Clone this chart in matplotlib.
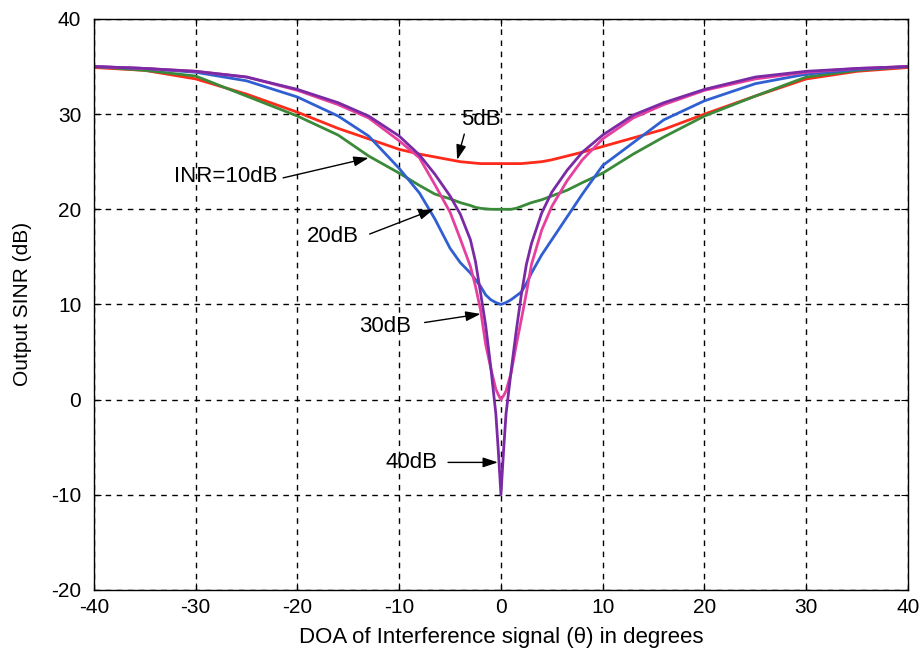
import numpy as np
import matplotlib
matplotlib.use("Agg")
import matplotlib.pyplot as plt

plt.rcParams['font.family'] = ['Liberation Sans', 'DejaVu Sans']
plt.rcParams['axes.unicode_minus'] = False

# DOA of interference (deg)
theta = [-40, -35, -30, -25, -20, -16, -13, -10, -8, -6.5, -5, -4, -3, -2.5, -2, -1.5, -1, -0.5, -0.25, 0,
         0.25, 0.5, 1, 1.5, 2, 2.5, 3, 4, 5, 6.5, 8, 10, 13, 16, 20, 25, 30, 35, 40]

# output SINR (dB) for each INR
sinr_5 = [34.9, 34.6, 33.7, 32.1, 30.2, 28.5, 27.4, 26.3, 25.8, 25.5, 25.2, 25.0, 24.9, 24.85, 24.8, 24.8, 24.8, 24.8, 24.8, 24.8,
          24.8, 24.8, 24.8, 24.8, 24.8, 24.85, 24.9, 25.0, 25.2, 25.6, 26.0, 26.6, 27.5, 28.4, 30.0, 31.9, 33.7, 34.5, 34.9]
sinr_10 = [35.0, 34.6, 34.0, 31.9, 29.8, 27.8, 25.6, 23.8, 22.5, 21.6, 21.1, 20.7, 20.4, 20.2, 20.1, 20.05, 20.0, 20.0, 20.0, 20.0,
           20.0, 20.0, 20.0, 20.1, 20.3, 20.5, 20.7, 21.0, 21.4, 22.0, 22.8, 23.8, 25.8, 27.6, 29.8, 31.9, 33.9, 34.6, 35.0]
sinr_20 = [35.0, 34.8, 34.4, 33.5, 31.8, 29.8, 27.7, 24.3, 21.7, 19.0, 15.9, 14.4, 13.3, 12.6, 11.9, 11.0, 10.5, 10.2, 10.1, 10.0,
           10.1, 10.2, 10.5, 10.9, 11.3, 12.2, 13.3, 15.2, 16.8, 19.2, 21.6, 24.6, 27.0, 29.4, 31.4, 33.2, 34.2, 34.7, 35.0]
sinr_30 = [35.0, 34.8, 34.5, 33.9, 32.5, 31.0, 29.6, 27.2, 25.4, 22.6, 19.7, 16.9, 14.0, 11.9, 9.4, 5.8, 3.3, 1.1, 0.5, 0.0,
           0.4, 0.9, 2.8, 5.7, 8.4, 11.2, 14.2, 17.8, 20.3, 23.0, 25.2, 27.4, 29.6, 31.0, 32.5, 33.7, 34.4, 34.8, 35.0]
sinr_40 = [35.0, 34.8, 34.5, 33.9, 32.6, 31.2, 29.8, 27.7, 25.7, 23.7, 21.4, 19.5, 16.8, 14.5, 11.2, 7.8, 3.4, -1.5, -5.5, -10.0,
           -5.5, -1.5, 3.0, 7.2, 11.0, 14.2, 16.4, 19.6, 21.8, 24.1, 26.0, 27.8, 29.9, 31.2, 32.6, 33.9, 34.5, 34.8, 35.0]

series = [(sinr_5, '#ff2a1a'), (sinr_10, '#3a8a3a'), (sinr_20, '#2f5fd0'),
          (sinr_30, '#e6409f'), (sinr_40, '#7b2aa6')]

fig = plt.figure(figsize=(9.2, 6.54), dpi=100)
ax = fig.add_axes([0.102, 0.098, 0.885, 0.873])

for vals, col in series:
    ax.plot(theta, vals, color=col, lw=2.0)

ax.set_xlim(-40, 40)
ax.set_ylim(-20, 40)
ax.set_xticks(np.arange(-40, 41, 10))
ax.set_yticks(np.arange(-20, 41, 10))
ax.grid(True, color='black', linestyle=(0, (4, 4)), lw=1.0)
ax.tick_params(direction='in', top=True, right=True, labelsize=15, length=5)
ax.tick_params(axis='x', pad=6)
ax.tick_params(axis='y', pad=9)
for s in ax.spines.values():
    s.set_linewidth(1.0)

ax.set_xlabel('DOA of Interference signal (θ) in degrees', fontsize=16, labelpad=7)
ax.set_ylabel('Output SINR (dB)', fontsize=15, labelpad=14)

arrow = dict(arrowstyle='-|>,head_length=0.9,head_width=0.3', color='black', lw=1.0, shrinkA=0, shrinkB=0)
ax.annotate('', xy=(-4.3, 25.2), xytext=(-3.6, 27.9), arrowprops=arrow)
ax.text(-3.9, 29.4, '5dB', fontsize=16, ha='left', va='center')

ax.annotate('', xy=(-13.0, 25.4), xytext=(-21.4, 23.3), arrowprops=arrow)
ax.text(-22.0, 23.4, 'INR=10dB', fontsize=16, ha='right', va='center')

ax.annotate('', xy=(-6.6, 20.0), xytext=(-12.9, 17.4), arrowprops=arrow)
ax.text(-14.0, 17.1, '20dB', fontsize=16, ha='right', va='center')

ax.annotate('', xy=(-2.0, 9.0), xytext=(-7.5, 8.1), arrowprops=arrow)
ax.text(-8.8, 7.7, '30dB', fontsize=16, ha='right', va='center')

ax.annotate('', xy=(-0.3, -6.6), xytext=(-5.2, -6.6), arrowprops=arrow)
ax.text(-6.2, -6.6, '40dB', fontsize=16, ha='right', va='center')

fig.savefig('out.png', dpi=100)
